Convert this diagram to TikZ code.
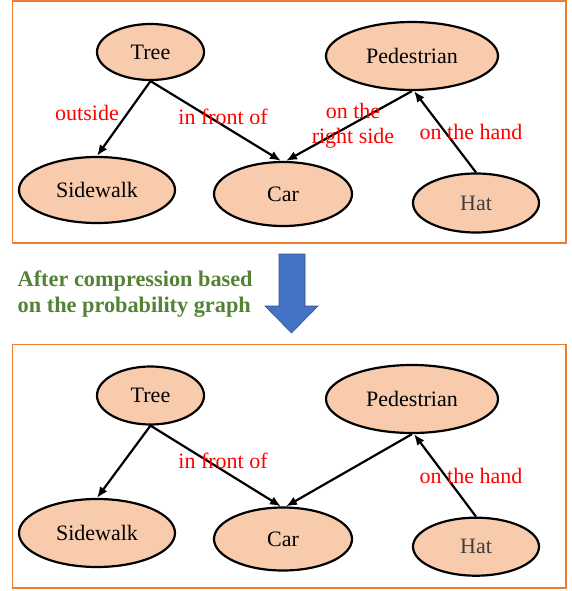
\documentclass[tikz,border=0pt]{standalone}
\usepackage{fontspec}
\setmainfont{Liberation Serif}
\usetikzlibrary{shapes.geometric,arrows.meta}
\definecolor{nodefill}{HTML}{F8CBAD}
\definecolor{boxorange}{HTML}{ED7D31}
\definecolor{capgreen}{HTML}{548235}
\definecolor{arrowblue}{HTML}{4472C4}
\definecolor{arrowedge}{HTML}{2F528F}
\definecolor{hatgray}{HTML}{404040}
\begin{document}
\begin{tikzpicture}[x=1pt,y=-1pt,
  ent/.style={ellipse, draw=black, line width=2.2pt, fill=nodefill, inner sep=0pt,
              font=\fontsize{22}{24}\selectfont},
  rel/.style={text=red, font=\fontsize{22}{25}\selectfont, align=center, inner sep=0pt},
  link/.style={line width=2.2pt, -{Latex[length=11pt,width=9pt]}},
  frame/.style={draw=boxorange, line width=1.5pt}]
\useasboundingbox (0,0) rectangle (572,591);

% ---------- top graph ----------
\draw[frame] (12.7,1.2) rectangle (566,243);
\node[ent, minimum width=107pt, minimum height=56pt] (tree1) at (150.5,52) {Tree};
\node[ent, minimum width=172pt, minimum height=68pt] (ped1) at (412,56) {Pedestrian};
\node[ent, minimum width=156pt, minimum height=66pt] (side1) at (97,190) {Sidewalk};
\node[ent, minimum width=138pt, minimum height=64pt] (car1) at (283,194) {Car};
\node[ent, minimum width=126pt, minimum height=59pt, text=hatgray] (hat1) at (476,203) {Hat};

\draw[link] (tree1.south) -- (side1.north);
\draw[link] (tree1.south) -- ([xshift=-2pt]car1.north);
\draw[link] (ped1.south) -- ([xshift=3pt]car1.north);
\draw[link] (hat1.north) -- ([xshift=2pt]ped1.south);

\node[rel] (lout1) at (87,113) {outside};
\node[rel] (lfront1) at (223,117) {in front of};
\node[rel] (lright1) at (353,126) {on the\\right side};
\node[rel] (lhand1) at (471,132) {on the hand};

% ---------- middle ----------
\node[anchor=west, align=left, inner sep=0pt, text=capgreen,
      font=\bfseries\fontsize{22.3}{26}\selectfont] (caption) at (17.5,294)
      {After compression based\\on the probability graph};
\filldraw[fill=arrowblue, draw=arrowedge, line width=0.6pt]
  (279,254) -- (305,254) -- (305,306) -- (318,306) -- (291.5,333) -- (265,306) -- (279,306) -- cycle;

% ---------- bottom graph ----------
\draw[frame] (12.7,344.7) rectangle (566,588);
\node[ent, minimum width=107pt, minimum height=58pt] (tree2) at (150.5,395.5) {Tree};
\node[ent, minimum width=172pt, minimum height=68pt] (ped2) at (412,399) {Pedestrian};
\node[ent, minimum width=156pt, minimum height=68pt] (side2) at (97,533) {Sidewalk};
\node[ent, minimum width=138pt, minimum height=63pt] (car2) at (283,539) {Car};
\node[ent, minimum width=126pt, minimum height=58pt, text=hatgray] (hat2) at (476,546.7) {Hat};

\draw[link] (tree2.south) -- (side2.north);
\draw[link] (tree2.south) -- ([xshift=-2pt]car2.north);
\draw[link] (ped2.south) -- ([xshift=3pt]car2.north);
\draw[link] (hat2.north) -- ([xshift=2pt]ped2.south);

\node[rel] (lfront2) at (223,461) {in front of};
\node[rel] (lhand2) at (471,476) {on the hand};
\end{tikzpicture}
\end{document}
